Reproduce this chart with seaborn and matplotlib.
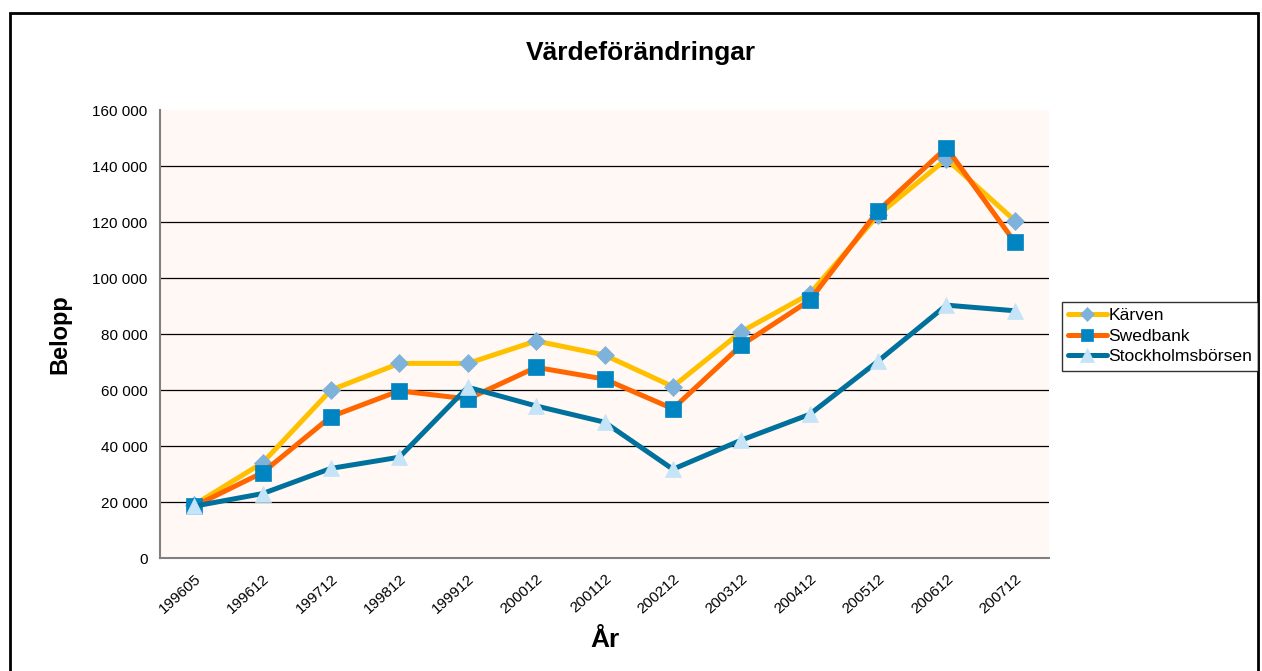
import matplotlib
matplotlib.use("Agg")
import matplotlib.pyplot as plt
import seaborn as sns
import pandas as pd
import numpy as np
from matplotlib.patches import Rectangle
from matplotlib.lines import Line2D

periods = ["199605", "199612", "199712", "199812", "199912", "200012", "200112",
           "200212", "200312", "200412", "200512", "200612", "200712"]
karven = [19000, 34000, 60000, 69500, 69500, 77500, 72500, 61200, 80800, 94300, 122500, 142500, 120500]
swedbank = [18500, 30500, 50500, 59700, 56800, 68100, 63900, 53300, 76000, 92000, 124000, 146500, 112800]
borsen = [18500, 23000, 32000, 36000, 61000, 54300, 48500, 31700, 42100, 51300, 70300, 90300, 88300]
series_names = ["Kärven", "Swedbank", "Stockholmsbörsen"]

sns.set_style("white")
plt.rcParams["font.family"] = ["Liberation Sans", "DejaVu Sans"]
plt.rcParams["text.color"] = "black"
plt.rcParams["axes.labelcolor"] = "black"
plt.rcParams["xtick.color"] = "black"
plt.rcParams["ytick.color"] = "black"

fig = plt.figure(figsize=(12.62, 6.71), dpi=100)
ax = fig.add_axes([160 / 1262, 1 - 558 / 671, (1049 - 160) / 1262, (558 - 110) / 671])
ax.set_facecolor("#FFF8F4")

styles = [
    dict(color="#FFC000", marker="D", markersize=9, markerfacecolor="#7FB2DA", markeredgecolor="#7FB2DA"),
    dict(color="#FF6600", marker="s", markersize=11, markerfacecolor="#0084C2", markeredgecolor="#0084C2"),
    dict(color="#00719C", marker="^", markersize=12, markerfacecolor="#C5E4F8", markeredgecolor="#C5E4F8"),
]

df = pd.DataFrame({"pos": np.arange(len(periods)), "period": periods,
                   "Kärven": karven, "Swedbank": swedbank, "Stockholmsbörsen": borsen})

for name, st in zip(series_names, styles):
    sns.lineplot(data=df, x="pos", y=name, ax=ax, linewidth=3.6, markeredgewidth=0.5,
                 zorder=3, **st)

ax.set_xlim(-0.5, len(periods) - 0.5)
ax.set_ylim(0, 160000)
ax.set_yticks(range(0, 160001, 20000))
ax.set_yticklabels([f"{v:,}".replace(",", " ") for v in range(0, 160001, 20000)], fontsize=11)
ax.yaxis.grid(True, color="black", linewidth=0.9)
ax.set_axisbelow(True)

# ticks between categories, labels at centres
ax.set_xticks(np.arange(-0.5, len(periods), 1.0))
ax.set_xticklabels([])
ax.set_xticks(np.arange(len(periods)), minor=True)
ax.set_xticklabels(periods, minor=True, rotation=42, ha="right", rotation_mode="anchor", fontsize=11)
ax.tick_params(axis="x", which="major", direction="out", length=7, width=1.2, color="#404040")
ax.tick_params(axis="x", which="minor", length=0, pad=10)
ax.tick_params(axis="y", direction="out", length=6, width=1.2, color="#404040", pad=3)

# no gridline along the top of the plot area
fig.canvas.draw()
ax.yaxis.get_gridlines()[-1].set_visible(False)

for side in ["top", "right"]:
    ax.spines[side].set_visible(False)
for side in ["left", "bottom"]:
    ax.spines[side].set_color("#808080")
    ax.spines[side].set_linewidth(1.5)

ax.set_xlabel("År", fontsize=19, fontweight="bold", labelpad=8)
ax.set_ylabel("Belopp", fontsize=17, fontweight="bold", labelpad=15)
fig.text(641 / 1262, 1 - 53 / 671, "Värdeförändringar", ha="center", va="center",
         fontsize=19, fontweight="bold")

handles = [Line2D([0], [0], linewidth=3.6, markeredgewidth=0.5, **st) for st in styles]
for h in handles:
    h.set_markersize(h.get_markersize() * 0.8)
leg = fig.legend(handles, series_names, loc="upper left",
                 bbox_to_anchor=(1062 / 1262, 1 - 302 / 671), frameon=True, fancybox=False,
                 fontsize=12.6, handlelength=2.2, handletextpad=0.1, borderpad=0.35,
                 labelspacing=0.3, borderaxespad=0)
leg.get_frame().set_edgecolor("black")
leg.get_frame().set_linewidth(1.0)

fig.add_artist(Rectangle((10 / 1262, -0.02), (1258 - 10) / 1262, 0.02 + 1 - 13 / 671,
                         transform=fig.transFigure, fill=False, edgecolor="black", linewidth=2))

fig.savefig("out.png", dpi=100)
